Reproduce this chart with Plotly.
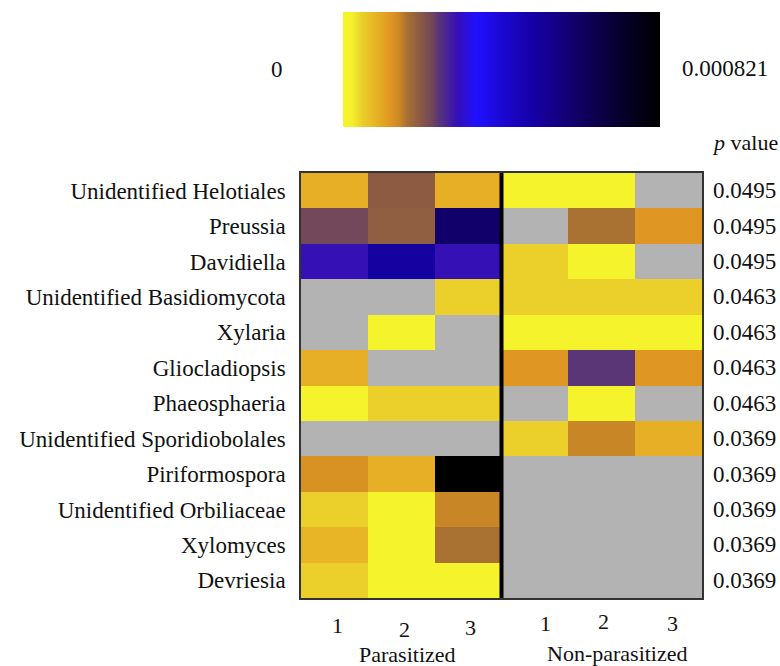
import plotly.graph_objects as go

taxa = ["Unidentified Helotiales", "Preussia", "Davidiella", "Unidentified Basidiomycota",
        "Xylaria", "Gliocladiopsis", "Phaeosphaeria", "Unidentified Sporidiobolales",
        "Piriformospora", "Unidentified Orbiliaceae", "Xylomyces", "Devriesia"]
samples = ["P1", "P2", "P3", "N1", "N2", "N3"]
sample_labels = ["1", "2", "3", "1", "2", "3"]
groups = ["Parasitized", "Non-parasitized"]
p_values = ["0.0495", "0.0495", "0.0495", "0.0463", "0.0463", "0.0463", "0.0463",
            "0.0369", "0.0369", "0.0369", "0.0369", "0.0369"]
vmin = 0
vmax = 0.000821
N = None
# relative abundance (fraction of vmax); None = absent (gray)
rel = [
    [0.11, 0.24, 0.11, 0.015, 0.015, N],
    [0.28, 0.235, 0.73, N, 0.20, 0.15],
    [0.36, 0.61, 0.36, 0.06, 0.015, N],
    [N, N, 0.06, 0.06, 0.06, 0.06],
    [N, 0.015, N, 0.015, 0.015, 0.015],
    [0.11, N, N, 0.15, 0.30, 0.15],
    [0.015, 0.06, 0.06, N, 0.015, N],
    [N, N, N, 0.06, 0.18, 0.11],
    [0.16, 0.11, 1.0, N, N, N],
    [0.06, 0.015, 0.18, N, N, N],
    [0.10, 0.015, 0.20, N, N, N],
    [0.06, 0.015, 0.015, N, N, N],
]
z = [[(v * vmax if v is not None else None) for v in row] for row in rel]

colorscale = [
    [0.0, "#F5F52A"], [0.03, "#F4F02E"], [0.06, "#EBCF2A"], [0.11, "#E6AF25"],
    [0.15, "#DF9622"], [0.18, "#C98626"], [0.20, "#AA7232"], [0.24, "#8C5B42"],
    [0.28, "#72485A"], [0.30, "#5B3676"], [0.36, "#3510B5"], [0.42, "#2010FF"],
    [0.52, "#1A06C8"], [0.61, "#1500A0"], [0.73, "#12006A"], [0.86, "#070032"],
    [1.0, "#000000"],
]

# plot-area geometry in pixels (for converting to paper coords)
L, R, T, B = 301, 702, 170, 598
W, H = R - L, B - T
px = lambda x: (x - L) / W
py = lambda y: (B - y) / H

font_family = "Liberation Serif"
TXT = "#111"
FS = 23
fig = go.Figure()
fig.add_trace(go.Heatmap(
    z=z, x=samples, y=taxa, zmin=vmin, zmax=vmax, colorscale=colorscale,
    hoverongaps=False,
    colorbar=dict(orientation="h", lenmode="pixels", len=317, thickness=115,
                  x=px(501.5), xanchor="center", y=py(8), yanchor="top",
                  xpad=0, ypad=0, outlinewidth=0, showticklabels=False, ticks=""),
))

fig.add_shape(type="line", xref="x", yref="paper", x0=2.5, x1=2.5, y0=0, y1=1,
              line=dict(color="black", width=4))

for t, p in zip(taxa, p_values):
    fig.add_annotation(x=1, xref="paper", xanchor="left", xshift=9, y=t, yref="y",
                       text=p, showarrow=False, font=dict(size=FS, color=TXT))

# column tick labels (slightly staggered as in original)
xshifts = [3, 3, 2, 11, 2, 4]
ycent = [626, 630, 628, 624, 622, 624]
for s, lab, dx, yc in zip(samples, sample_labels, xshifts, ycent):
    fig.add_annotation(x=s, xref="x", y=py(yc), yref="paper", text=lab, showarrow=False,
                       xshift=dx, font=dict(size=22, color=TXT),
                       xanchor="center", yanchor="middle")

fig.add_annotation(x=px(277), y=py(66), xref="paper", yref="paper", text=str(vmin),
                   showarrow=False, font=dict(size=FS, color=TXT), xanchor="center", yanchor="middle")
fig.add_annotation(x=px(680), y=py(65), xref="paper", yref="paper", text=f"{vmax:.6f}",
                   showarrow=False, font=dict(size=FS, color=TXT), xanchor="left", yanchor="middle")
fig.add_annotation(x=px(710), y=py(139), xref="paper", yref="paper", text="<i>p</i> value",
                   showarrow=False, font=dict(size=22, color=TXT), xanchor="left", yanchor="middle")
fig.add_annotation(x=px(407), y=py(655), xref="paper", yref="paper", text=groups[0],
                   showarrow=False, font=dict(size=22, color=TXT), xanchor="center", yanchor="middle")
fig.add_annotation(x=px(617), y=py(654), xref="paper", yref="paper", text=groups[1],
                   showarrow=False, font=dict(size=22, color=TXT), xanchor="center", yanchor="middle")

fig.update_layout(
    width=780, height=666,
    margin=dict(l=L, r=780 - R, t=T, b=666 - B),
    paper_bgcolor="white", plot_bgcolor="#B3B3B3",
    font=dict(family=font_family, size=FS, color=TXT),
    xaxis=dict(showticklabels=False, showgrid=False, zeroline=False, showline=True, mirror=True,
               linecolor="#333", linewidth=1.5, ticks=""),
    yaxis=dict(autorange="reversed", showgrid=False, zeroline=False, showline=True, mirror=True,
               linecolor="#333", linewidth=1.5, ticks="outside", ticklen=9,
               tickcolor="rgba(0,0,0,0)", tickfont=dict(size=FS)),
)

fig.write_html("out.html")
